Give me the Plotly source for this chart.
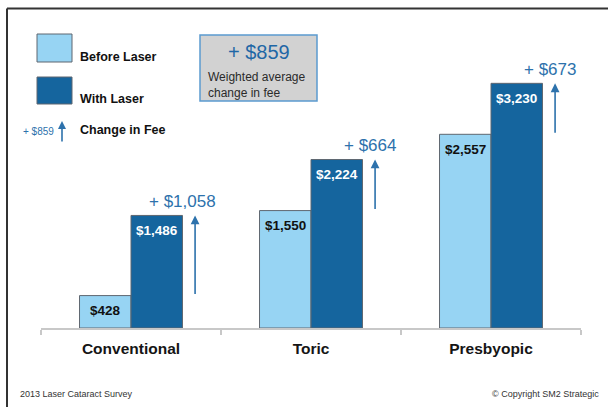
import plotly.graph_objects as go

# ---- data ----
categories = ["Conventional", "Toric", "Presbyopic"]
before_laser = [428, 1550, 2557]
with_laser = [1486, 2224, 3230]
change_labels = ["+ $1,058", "+ $664", "+ $673"]
weighted_avg_change = 859
series_names = ["Before Laser", "With Laser"]

# ---- layout constants ----
W, H = 608, 407
ML, MR, MT, MB = 41, 27, 25, 79
PW, PH = W - ML - MR, H - MT - MB
BOTTOM = H - MB
FONT = "Liberation Sans, Arial, sans-serif"
LIGHT = "#97D4F3"
DARK = "#15659E"
BLUE_TXT = "#2D72AC"
EDGE = "#5f6770"
BARGAP = 0.428


def px(x):
    return (x - ML) / PW


def py(y):
    return (BOTTOM - y) / PH


def money(v):
    return "${:,}".format(v)


fig = go.Figure()
fig.add_trace(go.Bar(x=categories, y=before_laser, name=series_names[0],
                     marker=dict(color=LIGHT, line=dict(color=EDGE, width=1)),
                     hoverinfo="skip"))
fig.add_trace(go.Bar(x=categories, y=with_laser, name=series_names[1],
                     marker=dict(color=DARK, line=dict(color=EDGE, width=1)),
                     hoverinfo="skip"))

annotations = []
shapes = []

# bar value labels (inside near top)
cat_px = PW / len(categories)
bar_px = cat_px * (1 - BARGAP) / 2
for i, c in enumerate(categories):
    for vals, shift, col in ((before_laser, -bar_px / 2, "#111111"),
                             (with_laser, bar_px / 2, "#ffffff")):
        annotations.append(dict(x=c, y=vals[i], xref="x", yref="y", text="<b>%s</b>" % money(vals[i]),
                                showarrow=False, xanchor="center", yanchor="middle",
                                xshift=shift, yshift=-15,
                                font=dict(family=FONT, size=13.5, color=col)))
    # change arrow from before to after
    ax_pos = i + 0.356
    annotations.append(dict(x=ax_pos, y=with_laser[i], ax=ax_pos, ay=before_laser[i],
                            xref="x", yref="y", axref="x", ayref="y", text="",
                            showarrow=True, arrowhead=2, arrowsize=1.1, arrowwidth=1.6,
                            arrowcolor=BLUE_TXT, standoff=0))
    annotations.append(dict(x=ax_pos, y=with_laser[i], xref="x", yref="y", text=change_labels[i],
                            showarrow=False, xanchor="right", yanchor="middle",
                            xshift=23, yshift=14,
                            font=dict(family=FONT, size=17, color=BLUE_TXT)))

# legend swatches
shapes.append(dict(type="rect", xref="paper", yref="paper", x0=px(37), x1=px(72), y0=py(62), y1=py(34),
                   fillcolor=LIGHT, line=dict(color=EDGE, width=1)))
shapes.append(dict(type="rect", xref="paper", yref="paper", x0=px(37), x1=px(72), y0=py(104), y1=py(77),
                   fillcolor=DARK, line=dict(color=EDGE, width=1)))
for name, yy in ((series_names[0], 57), (series_names[1], 99), ("Change in Fee", 130)):
    annotations.append(dict(x=px(78), y=py(yy), xref="paper", yref="paper", text="<b>%s</b>" % name,
                            showarrow=False, xanchor="left", yanchor="middle",
                            font=dict(family=FONT, size=12.5, color="#111111")))
annotations.append(dict(x=px(62), y=py(121), xref="paper", yref="paper", ax=0, ay=22, text="",
                        showarrow=True, arrowhead=2, arrowsize=1, arrowwidth=1.6,
                        arrowcolor=BLUE_TXT, standoff=0))
annotations.append(dict(x=px(56), y=py(131), xref="paper", yref="paper",
                        text="+ $%d" % weighted_avg_change, showarrow=False,
                        xanchor="right", yanchor="middle",
                        font=dict(family=FONT, size=10, color=BLUE_TXT)))

# weighted average box
shapes.append(dict(type="rect", xref="paper", yref="paper", x0=px(200), x1=px(317), y0=py(101), y1=py(35),
                   fillcolor="#D2D2D2", line=dict(color="#5B9BD0", width=1.5)))
annotations.append(dict(x=px(258.5), y=py(52), xref="paper", yref="paper",
                        text="+ $%d" % weighted_avg_change, showarrow=False,
                        xanchor="center", yanchor="middle",
                        font=dict(family=FONT, size=20, color="#1F67A6")))
annotations.append(dict(x=px(206), y=py(85), xref="paper", yref="paper",
                        text="Weighted average<br>change in fee", showarrow=False,
                        xanchor="left", yanchor="middle", align="left",
                        font=dict(family=FONT, size=12, color="#2a2a2a")))

# footer
annotations.append(dict(x=px(18), y=py(394), xref="paper", yref="paper", text="2013 Laser Cataract Survey",
                        showarrow=False, xanchor="left", yanchor="middle",
                        font=dict(family=FONT, size=9, color="#333333")))
annotations.append(dict(x=px(601), y=py(394), xref="paper", yref="paper", text="© Copyright SM2 Strategic",
                        showarrow=False, xanchor="right", yanchor="middle",
                        font=dict(family=FONT, size=9, color="#333333")))

# frame lines (top and left)
shapes.append(dict(type="line", xref="paper", yref="paper", x0=px(7), x1=px(W + 2), y0=py(8.5), y1=py(8.5),
                   line=dict(color="#333333", width=2)))
shapes.append(dict(type="line", xref="paper", yref="paper", x0=px(7), x1=px(7), y0=py(8.5), y1=py(H + 2),
                   line=dict(color="#333333", width=2)))

fig.update_layout(
    width=W, height=H,
    margin=dict(l=ML, r=MR, t=MT, b=MB, pad=0),
    paper_bgcolor="white", plot_bgcolor="white",
    barmode="group", bargap=BARGAP, bargroupgap=0,
    showlegend=False,
    annotations=annotations, shapes=shapes,
    font=dict(family=FONT),
    xaxis=dict(showgrid=False, showline=True, linecolor="#C8C8C8", linewidth=1.5,
               ticks="outside", tickson="boundaries", ticklen=5, tickcolor="#C8C8C8", tickwidth=1.5,
               ticklabelstandoff=6,
               tickfont=dict(family=FONT, size=15.5, color="#151515"),
               tickvals=categories, ticktext=["<b>%s</b>" % c for c in categories],
               fixedrange=True),
    yaxis=dict(range=[0, 4000], visible=False, fixedrange=True),
)

fig.write_html("out.html", config={"displayModeBar": False})
